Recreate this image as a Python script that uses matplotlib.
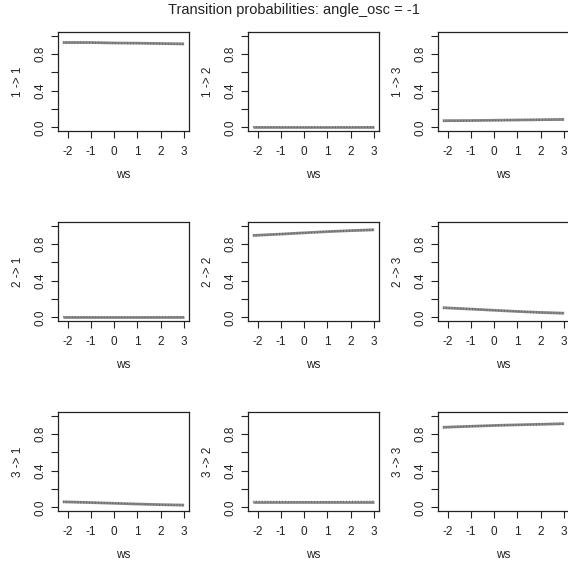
import matplotlib
matplotlib.use("Agg")
import matplotlib.pyplot as plt

plt.rcParams['font.family'] = ['Liberation Sans', 'DejaVu Sans']

title = "Transition probabilities: angle_osc = -1"
ws = [-2.2, -1.0, 0.0, 1.0, 2.0, 3.0]

# estimated transition probabilities (rows: from-state, cols: to-state)
p11 = [0.925, 0.925, 0.920, 0.918, 0.914, 0.910]
p12 = [0.0, 0.0, 0.0, 0.0, 0.0, 0.0]
p13 = [0.072, 0.074, 0.077, 0.080, 0.083, 0.086]
p21 = [0.0, 0.0, 0.0, 0.0, 0.0, 0.0]
p22 = [0.893, 0.908, 0.922, 0.935, 0.946, 0.955]
p23 = [0.105, 0.090, 0.077, 0.064, 0.053, 0.045]
p31 = [0.060, 0.052, 0.044, 0.036, 0.029, 0.024]
p32 = [0.062, 0.062, 0.062, 0.062, 0.062, 0.062]
p33 = [0.873, 0.884, 0.893, 0.900, 0.906, 0.912]
ci_half = [0.008, 0.005, 0.003, 0.003, 0.006, 0.009]

probs = [[p11, p12, p13], [p21, p22, p23], [p31, p32, p33]]
row_labels = ["1", "2", "3"]

xticks = [-2, -1, 0, 1, 2, 3]
yticks = [0.0, 0.2, 0.4, 0.6, 0.8, 1.0]
ytick_labels = ["0.0", "", "0.4", "", "0.8", ""]

W, H = 568, 563
fig = plt.figure(figsize=(W / 100, H / 100), dpi=100)

col_left = [58, 248, 438]
row_top = [32, 222, 412]
bw, bh = 131, 99

for i in range(3):
    for j in range(3):
        ax = fig.add_axes([col_left[j] / W, 1 - (row_top[i] + bh) / H, bw / W, bh / H])
        y = probs[i][j]
        lo = [max(0.0, v - c) for v, c in zip(y, ci_half)]
        hi = [min(1.0, v + c) for v, c in zip(y, ci_half)]
        ax.plot(ws, y, color='#8c8c8c', lw=2.0, solid_capstyle='butt', zorder=2)
        ax.plot(ws, lo, color='#555555', lw=0.6, ls=(0, (1, 2.5)), zorder=3)
        ax.plot(ws, hi, color='#555555', lw=0.6, ls=(0, (1, 2.5)), zorder=3)
        xmin, xmax = ws[0], ws[-1]
        w = xmax - xmin
        ax.set_xlim(xmin - 0.04 * w, xmax + 0.04 * w)
        ax.set_ylim(-0.04, 1.04)
        ax.set_xticks(xticks)
        ax.set_xticklabels([str(t) for t in xticks])
        ax.set_yticks(yticks)
        ax.set_yticklabels(ytick_labels, rotation=90, va='center')
        ax.tick_params(axis='both', direction='out', length=5, width=0.8,
                       labelsize=8.5, color='#222222', labelcolor='#222222')
        ax.tick_params(axis='x', pad=5.5)
        ax.tick_params(axis='y', pad=3.5)
        for s in ax.spines.values():
            s.set_linewidth(0.9)
            s.set_color('#222222')
        ax.set_xlabel("ws", fontsize=8.5, labelpad=8.5, color='#222222')
        ax.set_ylabel(f"{row_labels[i]} -> {j + 1}", fontsize=8.5, labelpad=7, color='#222222')

fig.text(294 / W, 1 - 10 / H, title, ha='center', va='center', fontsize=10.5, color='#222222')

fig.savefig("out.png", dpi=100)
